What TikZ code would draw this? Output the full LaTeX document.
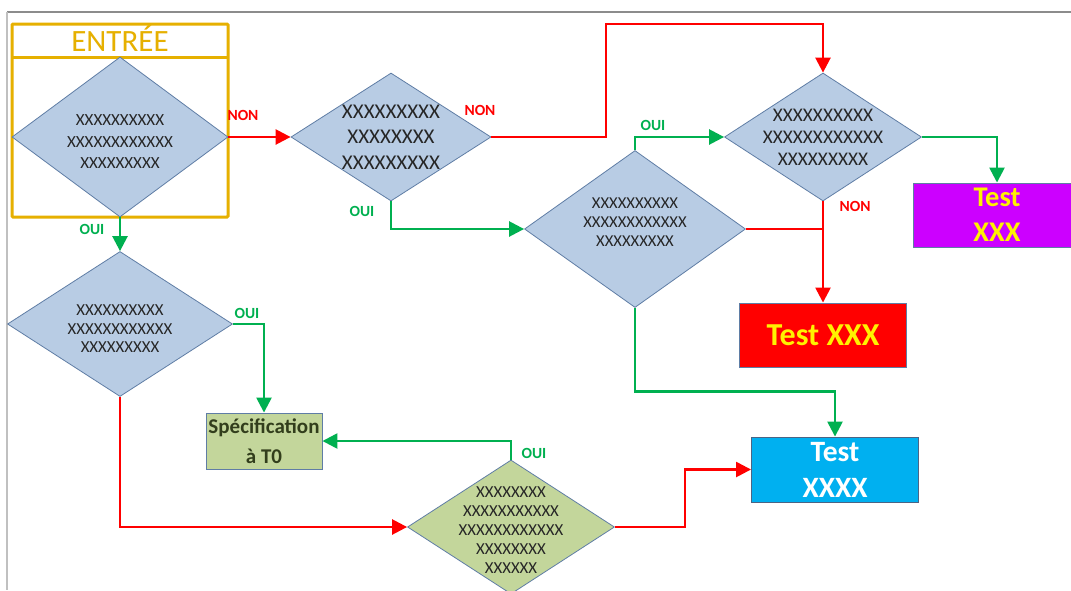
\documentclass[tikz,border=0pt]{standalone}
\usepackage{fontspec}
\setmainfont{Carlito}
\usetikzlibrary{shapes.geometric,arrows.meta}

\definecolor{gold}{RGB}{230,176,0}
\definecolor{dfill}{RGB}{184,204,228}
\definecolor{gfill}{RGB}{195,214,155}
\definecolor{edge}{RGB}{95,125,165}
\definecolor{okgreen}{RGB}{0,176,80}
\definecolor{nored}{RGB}{255,0,0}
\definecolor{violet}{RGB}{204,0,255}
\definecolor{sky}{RGB}{0,176,240}
\definecolor{specink}{RGB}{50,62,28}
\definecolor{framegray}{RGB}{140,140,140}
\definecolor{framelight}{RGB}{192,192,192}

\tikzset{
  decision/.style={shape=diamond, draw=edge, line width=0.8pt, fill=dfill, inner sep=0pt},
  xtext/.style={align=center, text=black!85, inner sep=0pt},
  outbox/.style={draw=edge, line width=0.9pt, inner sep=0pt, align=center},
  yeslink/.style={draw=okgreen, line width=2.5pt, -{Triangle[length=15pt,width=15pt]}},
  nolink/.style={draw=nored, line width=2.5pt, -{Triangle[length=15pt,width=15pt]}},
  noline/.style={draw=nored, line width=2.5pt},
  yeslabel/.style={text=okgreen, font=\fontsize{15.5}{15.5}\selectfont\bfseries, inner sep=0pt},
  nolabel/.style={text=nored, font=\fontsize{15.5}{15.5}\selectfont\bfseries, inner sep=0pt},
}

\begin{document}
\begin{tikzpicture}[x=1pt, y=-1pt]
\clip (0,0) rectangle (1071,590);
\fill[white] (0,0) rectangle (1071,590);

% sheet border
\draw[framegray, line width=1.5pt] (7,12) -- (1071,12);
\draw[framelight, line width=2pt] (7,12) -- (7,590);

% entry frame
\draw[gold, line width=3pt, rounded corners=1pt] (12,24) rectangle (228,217);
\draw[gold, line width=3pt] (12,57) -- (228,57);
\node[anchor=base, text=gold, font=\fontsize{31}{31}\selectfont, inner sep=0pt] (entree) at (120,51) {ENTRÉE};

% decisions
\node[decision, minimum width=216pt, minimum height=160pt] (d1) at (120,137) {};
\node[xtext, font=\fontsize{17}{21.5}\selectfont] (d1t) at (120,142) {XXXXXXXXXX\\XXXXXXXXXXXX\\XXXXXXXXX};

\node[decision, minimum width=200pt, minimum height=128pt] (d2) at (391,137) {};
\node[xtext, font=\fontsize{21}{25.5}\selectfont] (d2t) at (391,137) {XXXXXXXXX\\XXXXXXXX\\XXXXXXXXX};

\node[decision, minimum width=221pt, minimum height=157pt] (d3) at (635,229) {};
\node[xtext, font=\fontsize{16.6}{19}\selectfont] (d3t) at (635,222) {XXXXXXXXXX\\XXXXXXXXXXXX\\XXXXXXXXX};

\node[decision, minimum width=197pt, minimum height=128pt] (d4) at (823,137) {};
\node[xtext, font=\fontsize{19.3}{22}\selectfont] (d4t) at (823,137) {XXXXXXXXXX\\XXXXXXXXXXXX\\XXXXXXXXX};

\node[decision, minimum width=225pt, minimum height=145pt] (d5) at (120,324) {};
\node[xtext, font=\fontsize{16.8}{18.5}\selectfont] (d5t) at (120,329) {XXXXXXXXXX\\XXXXXXXXXXXX\\XXXXXXXXX};

\node[decision, fill=gfill, minimum width=207pt, minimum height=134pt] (d6) at (511,527) {};
\node[xtext, font=\fontsize{16.8}{19}\selectfont] (d6t) at (511,530) {XXXXXXXX\\XXXXXXXXXXX\\XXXXXXXXXXXX\\XXXXXXXX\\XXXXXX};

% outcome boxes
\node[outbox, fill=gfill, minimum width=116pt, minimum height=56pt, text=specink,
      font=\fontsize{21}{30}\selectfont\bfseries] (spec) at (264,441) {Spécification\\à T0};
\node[outbox, fill=violet, minimum width=168pt, minimum height=64pt, text=yellow,
      font=\fontsize{28.5}{35}\selectfont\bfseries] (purple) at (997,215) {Test\\XXX};
\node[outbox, fill=nored, minimum width=167pt, minimum height=64pt, text=yellow,
      font=\fontsize{32}{32}\selectfont\bfseries] (redbox) at (823,335) {Test XXX};
\node[outbox, draw=edge!80!black, fill=sky, minimum width=167pt, minimum height=65pt, text=white,
      font=\fontsize{29.5}{36}\selectfont\bfseries] (blue) at (835,469.5) {Test\\XXXX};

% connectors
\draw[nolink] (d1.east) -- (d2.west);
\draw[nolink] (d2.east) -| (606,24) -| (d4.north);
\draw[yeslink] (d2.south) |- (d3.west);
\draw[yeslink] (d3.north) |- (d4.west);
\draw[yeslink] (d4.east) -| (purple.north);
\draw[noline] (d3.east) -- (d4.south |- d3.east);
\draw[nolink] (d4.south) -- (redbox.north);
\draw[yeslink] (d3.south) -- ++(0,83.5) -| (blue.north);
\draw[yeslink] (d1.south) -- (d5.north);
\draw[yeslink] (d5.east) -| (spec.north);
\draw[nolink] (d5.south) |- (d6.west);
\draw[yeslink] (d6.north) |- (spec.east);
\draw[nolink] (d6.east) -- ++(70,0) |- (blue.west);

% branch labels
\node[nolabel] (n1) at (243,115) {NON};
\node[nolabel] (n2) at (480,110) {NON};
\node[nolabel] (n3) at (855,206) {NON};
\node[yeslabel] (o1) at (92,229) {OUI};
\node[yeslabel] (o2) at (362,211) {OUI};
\node[yeslabel] (o3) at (653,125) {OUI};
\node[yeslabel] (o4) at (247,313) {OUI};
\node[yeslabel] (o5) at (534,453) {OUI};
\end{tikzpicture}
\end{document}
